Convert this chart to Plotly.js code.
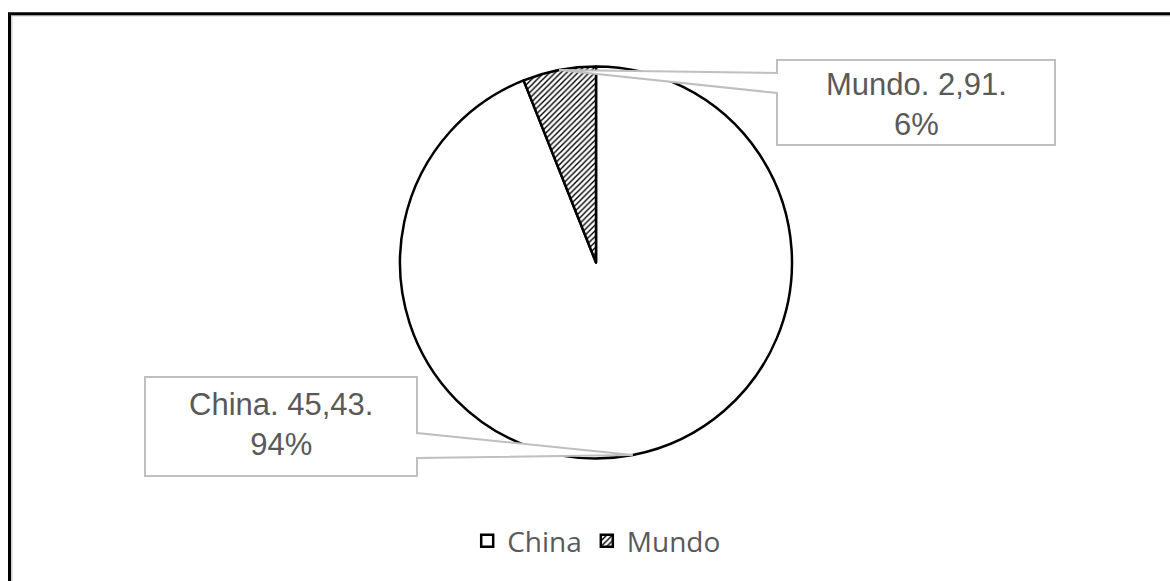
<!DOCTYPE html>
<html><head><meta charset="utf-8">
<script src="https://cdn.plot.ly/plotly-3.0.1.min.js"></script>
<style>html,body{margin:0;padding:0;background:#fff;overflow:hidden}#chart{width:1170px;height:581px}</style>
</head><body><div id="chart"></div>
<script>
// ---- data ----
const categories = ['China', 'Mundo'];
const values = [45.43, 2.91];
const fillPatterns = ['', '/'];

// ---- geometry / layout constants ----
const W = 1170, H = 581;
const pieCx = 596, pieCy = 262.5, pieR = 196;
const domain = {
  x: [(pieCx - pieR) / W, (pieCx + pieR) / W],
  y: [(H - pieCy - pieR) / H, (H - pieCy + pieR) / H]
};
const px = x => x / W;
const py = y => 1 - y / H;

const total = values.reduce((a, b) => a + b, 0);
const pct = values.map(v => Math.round(v / total * 100));
const fmt = v => v.toFixed(2).replace('.', ',');
const labelTexts = categories.map((c, i) => `${c}. ${fmt(values[i])}.<br>${pct[i]}%`);

// callout boxes in pixels; a0/a1 = where pointer leaves the box edge
const boxes = [
  {x0: 145, x1: 417, y0: 377, y1: 476, side: 'right', a0: 433, a1: 458},
  {x0: 777, x1: 1055, y0: 60, y1: 145, side: 'left', a0: 73, a1: 93}
];

// slice mid-angles (clockwise from 12 o'clock), tips on the pie rim
let cum = 0;
const tips = values.map(v => {
  const mid = (cum + v / 2) / total * 2 * Math.PI;
  cum += v;
  return {x: pieCx + pieR * Math.sin(mid), y: pieCy - pieR * Math.cos(mid)};
});

const shapes = [];
const annotations = [];
boxes.forEach((b, i) => {
  const t = tips[i];
  let d;
  if (b.side === 'right') {
    d = `M${px(b.x0)},${py(b.y0)} L${px(b.x1)},${py(b.y0)} L${px(b.x1)},${py(b.a0)} L${px(t.x)},${py(t.y)} L${px(b.x1)},${py(b.a1)} L${px(b.x1)},${py(b.y1)} L${px(b.x0)},${py(b.y1)} Z`;
  } else {
    d = `M${px(b.x0)},${py(b.y0)} L${px(b.x1)},${py(b.y0)} L${px(b.x1)},${py(b.y1)} L${px(b.x0)},${py(b.y1)} L${px(b.x0)},${py(b.a1)} L${px(t.x)},${py(t.y)} L${px(b.x0)},${py(b.a0)} Z`;
  }
  shapes.push({type: 'path', xref: 'paper', yref: 'paper', path: d,
    fillcolor: '#ffffff', line: {color: '#bfbfbf', width: 2}, layer: 'above'});
  annotations.push({xref: 'paper', yref: 'paper', x: px((b.x0 + b.x1) / 2), y: py((b.y0 + b.y1) / 2 + (i === 1 ? 2 : -2)),
    text: labelTexts[i], showarrow: false, align: 'center', xanchor: 'center', yanchor: 'middle',
    font: {family: 'Liberation Sans, Arial, sans-serif', size: 31, color: '#595959'}});
});

// outer frame
shapes.push({type: 'rect', xref: 'paper', yref: 'paper', x0: px(11.8), y0: -0.1, x1: 1.1, y1: py(15.8),
  line: {color: '#d0d0d0', width: 1.5}, layer: 'above'});
shapes.push({type: 'rect', xref: 'paper', yref: 'paper', x0: px(9.5), y0: -0.1, x1: 1.1, y1: py(13.7),
  line: {color: '#000000', width: 3}, layer: 'above'});

const trace = {
  type: 'pie',
  labels: categories,
  values: values,
  sort: false,
  direction: 'clockwise',
  rotation: 0,
  textinfo: 'none',
  hoverinfo: 'label+value+percent',
  domain: domain,
  marker: {
    colors: ['#ffffff', '#ffffff'],
    line: {color: '#000000', width: 2.5},
    pattern: {shape: fillPatterns, fgcolor: '#000000', bgcolor: '#ffffff', size: 4, solidity: 0.35}
  }
};

const layout = {
  width: W, height: H,
  margin: {l: 0, r: 0, t: 0, b: 0},
  paper_bgcolor: '#ffffff',
  separators: ',.',
  showlegend: true,
  legend: {orientation: 'h', x: 0.51, xanchor: 'center', y: py(541), yanchor: 'middle',
    font: {family: 'Open Sans, sans-serif', size: 28, color: '#595959'}, traceorder: 'normal'},
  shapes: shapes,
  annotations: annotations
};

Plotly.newPlot('chart', [trace], layout, {displayModeBar: false, staticPlot: true});
</script>
</body></html>
